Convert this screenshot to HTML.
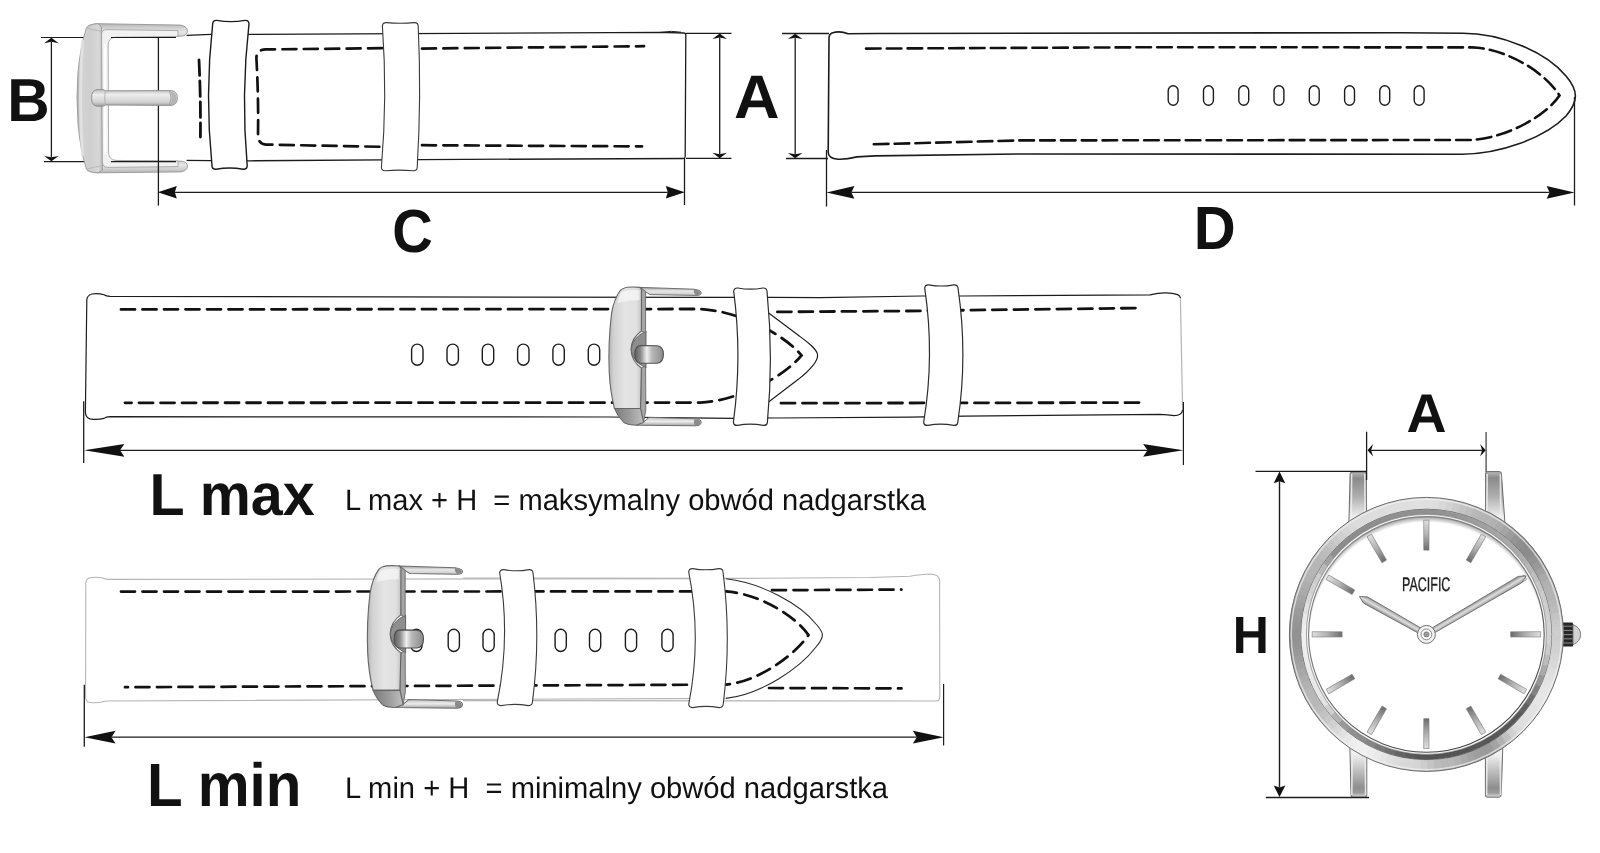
<!DOCTYPE html>
<html><head><meta charset="utf-8"><title>Wymiary paska</title>
<style>
html,body{margin:0;padding:0;background:#fff;}
body{width:1600px;height:853px;overflow:hidden;font-family:"Liberation Sans",sans-serif;}
svg{display:block;will-change:transform;filter:grayscale(1);}
text{font-family:"Liberation Sans",sans-serif;fill:#111;text-rendering:geometricPrecision;}
.b{font-weight:bold;}
</style></head><body>
<svg width="1600" height="853" viewBox="0 0 1600 853">
<rect width="1600" height="853" fill="#fff"/>
<defs>
<linearGradient id="gBarL" x1="0" y1="0" x2="1" y2="0">
 <stop offset="0" stop-color="#b2b2b2"/><stop offset="0.22" stop-color="#d2d2d2"/><stop offset="0.55" stop-color="#cecece"/><stop offset="0.85" stop-color="#d8d8d8"/><stop offset="1" stop-color="#c0c0c0"/>
</linearGradient>
<linearGradient id="gBarT" x1="0" y1="0" x2="0" y2="1">
 <stop offset="0" stop-color="#b4b4b4"/><stop offset="0.3" stop-color="#d0d0d0"/><stop offset="0.6" stop-color="#e6e6e6"/><stop offset="1" stop-color="#d0d0d0"/>
</linearGradient>
<linearGradient id="gBarB" x1="0" y1="0" x2="0" y2="1">
 <stop offset="0" stop-color="#d0d0d0"/><stop offset="0.4" stop-color="#e6e6e6"/><stop offset="0.7" stop-color="#d0d0d0"/><stop offset="1" stop-color="#b4b4b4"/>
</linearGradient>
<linearGradient id="gProng" x1="0" y1="0" x2="0" y2="1">
 <stop offset="0" stop-color="#bdbdbd"/><stop offset="0.3" stop-color="#ededed"/><stop offset="0.75" stop-color="#d2d2d2"/><stop offset="1" stop-color="#9c9c9c"/>
</linearGradient>
<linearGradient id="gChrome" x1="0" y1="0" x2="1" y2="0">
 <stop offset="0" stop-color="#b4b4b4"/><stop offset="0.15" stop-color="#d2d2d2"/><stop offset="0.5" stop-color="#e4e4e4"/><stop offset="0.85" stop-color="#e0e0e0"/><stop offset="1" stop-color="#c4c4c4"/>
</linearGradient>
<linearGradient id="gChamfer" x1="0" y1="0" x2="1" y2="0">
 <stop offset="0" stop-color="#7c7c7c"/><stop offset="0.5" stop-color="#9a9a9a"/><stop offset="1" stop-color="#c0c0c0"/>
</linearGradient>
<linearGradient id="gChromeT" x1="0" y1="0" x2="0" y2="1">
 <stop offset="0" stop-color="#9a9a9a"/><stop offset="0.45" stop-color="#e8e8e8"/><stop offset="1" stop-color="#c8c8c8"/>
</linearGradient>
<linearGradient id="gChromeB" x1="0" y1="0" x2="0" y2="1">
 <stop offset="0" stop-color="#c4c4c4"/><stop offset="0.5" stop-color="#ececec"/><stop offset="1" stop-color="#a0a0a0"/>
</linearGradient>
<linearGradient id="gProng2" x1="0" y1="0" x2="1" y2="0">
 <stop offset="0" stop-color="#5e5e5e"/><stop offset="0.2" stop-color="#8a8a8a"/><stop offset="0.42" stop-color="#f0f0f0"/><stop offset="0.6" stop-color="#b8b8b8"/><stop offset="1" stop-color="#8a8a8a"/>
</linearGradient>
<linearGradient id="gCase" x1="0.15" y1="0.1" x2="0.85" y2="0.9">
 <stop offset="0" stop-color="#dcdcdc"/><stop offset="0.25" stop-color="#f0f0f0"/><stop offset="0.5" stop-color="#c4c4c4"/><stop offset="0.75" stop-color="#b0b0b0"/><stop offset="1" stop-color="#d8d8d8"/>
</linearGradient>
<linearGradient id="gBezel2" x1="0.2" y1="0.1" x2="0.8" y2="0.9">
 <stop offset="0" stop-color="#a8a8a8"/><stop offset="0.4" stop-color="#e8e8e8"/><stop offset="0.7" stop-color="#f6f6f6"/><stop offset="1" stop-color="#b4b4b4"/>
</linearGradient>
<linearGradient id="gDialEdge" x1="0.2" y1="0" x2="0.8" y2="1">
 <stop offset="0" stop-color="#8a8a8a"/><stop offset="0.5" stop-color="#707070"/><stop offset="1" stop-color="#3c3c3c"/>
</linearGradient>
<radialGradient id="gDial" gradientUnits="userSpaceOnUse" cx="1426.4" cy="639.4" r="123">
 <stop offset="0.952" stop-color="#fff"/><stop offset="1" stop-color="#9c9c9c"/>
</radialGradient>
<linearGradient id="gLugT" x1="0" y1="0" x2="0" y2="1">
 <stop offset="0" stop-color="#b8b8b8"/><stop offset="0.1" stop-color="#8a8a8a"/><stop offset="0.4" stop-color="#b0b0b0"/><stop offset="0.7" stop-color="#ececec"/><stop offset="1" stop-color="#fff"/>
</linearGradient>
<linearGradient id="gLugB" x1="0" y1="0" x2="0" y2="1">
 <stop offset="0" stop-color="#fff"/><stop offset="0.3" stop-color="#f2f2f2"/><stop offset="0.55" stop-color="#c4c4c4"/><stop offset="0.85" stop-color="#8e8e8e"/><stop offset="0.93" stop-color="#9c9c9c"/><stop offset="1" stop-color="#dcdcdc"/>
</linearGradient>
<linearGradient id="gMark" x1="0" y1="0" x2="0" y2="1">
 <stop offset="0" stop-color="#e0e0e0"/><stop offset="0.5" stop-color="#b0b0b0"/><stop offset="1" stop-color="#6c6c6c"/>
</linearGradient>
<linearGradient id="gHand" x1="0" y1="0" x2="0" y2="1">
 <stop offset="0" stop-color="#8a8a8a"/><stop offset="0.5" stop-color="#dedede"/><stop offset="1" stop-color="#9a9a9a"/>
</linearGradient>
<linearGradient id="gCrown" x1="0" y1="0" x2="0" y2="1">
 <stop offset="0" stop-color="#555"/><stop offset="0.5" stop-color="#222"/><stop offset="1" stop-color="#555"/>
</linearGradient>
</defs>
<g id="strapC">
<path d="M186.6,35.4 L211,34.4 L250,34.4 L660,32.4 L684,33 Q686,33.2 685.8,35.4 L685.2,156 Q685.2,158.6 683,158.5 L420,159.6 L250,160.8 L211,160.6 L186.6,160.4" fill="#fff" stroke="#1c1c1c" stroke-width="1.3" stroke-linejoin="round"/>
<path d="M660,32.4 Q672,30.4 681,32.2" fill="none" stroke="#1c1c1c" stroke-width="1"/>
<path d="M199,60 Q200.8,98 200.4,137" fill="none" stroke="#111" stroke-width="2.8" stroke-dasharray="15.5 5.5" stroke-dashoffset="0" stroke-linecap="round"/>
<path d="M382,48.2 L266,49.4 Q256.4,49.8 256.4,58 Q258.6,98 258,135 Q258,144 266,144.6 L382,146.8" fill="none" stroke="#111" stroke-width="2.7" stroke-dasharray="14 7.4" stroke-dashoffset="0" stroke-linecap="round"/>
<path d="M422,48.6 L644,46.2" fill="none" stroke="#111" stroke-width="2.7" stroke-dasharray="14 7.4" stroke-dashoffset="0" stroke-linecap="round"/>
<path d="M422,145.2 L642,146.4" fill="none" stroke="#111" stroke-width="2.7" stroke-dasharray="14 7.4" stroke-dashoffset="0" stroke-linecap="round"/>
<line x1="41.0" y1="37.5" x2="176.0" y2="37.5" stroke="#1c1c1c" stroke-width="1.20"/>
<line x1="44.0" y1="161.6" x2="176.0" y2="161.6" stroke="#1c1c1c" stroke-width="1.30"/>
<path d="M86.4,169 Q88.5,172.4 98,172.8 L181,171.9 Q187.4,170.6 187.4,166.2 Q187.4,161.6 181,161.2 L112,160.6 L101.5,160 Z" fill="url(#gBarB)" stroke="#969696" stroke-width="0.9" stroke-linejoin="round"/>
<path d="M86.4,27.9 Q88.5,24.2 98,23.7 L181,25.1 Q187.4,26.6 187.4,31 Q187.4,35.6 181,36.2 L112,37 L101.5,37.6 Z" fill="url(#gBarT)" stroke="#969696" stroke-width="0.9" stroke-linejoin="round"/>
<path d="M86.4,27.9 Q80.5,46 78,72 Q76,97 78,124 Q80.5,151 86.4,169 Q88.5,172.4 98,172.8 L102.4,170 L101.6,27 L98,23.7 Q88.5,24.2 86.4,27.9 Z" fill="url(#gBarL)" stroke="#9a9a9a" stroke-width="0.9" stroke-linejoin="round"/>
<path d="M82.5,40 Q78.5,97 82.5,156" fill="none" stroke="#e6e6e6" stroke-width="3" opacity="0.8"/>
<path d="M86.4,27.9 L101.6,31.5 M86.4,169 L102,165.6" fill="none" stroke="#b4b4b4" stroke-width="0.8"/>
<path d="M101.6,34 Q101.6,29.6 107,29.6 L178,30.6 L178,36.4 L116,37.2 Q108.2,37.6 108.2,45 L108.6,152 Q108.6,160 116,160.4 L178,161 L178,166.6 L108,167.4 Q102.4,167.2 102.4,162 Z" fill="#f1f1f1" stroke="#9c9c9c" stroke-width="0.8" stroke-linejoin="round"/>
<path d="M105,44 L105.4,154" stroke="#fdfdfd" stroke-width="2.4" fill="none"/>
<line x1="158.4" y1="37.5" x2="158.4" y2="205.6" stroke="#1c1c1c" stroke-width="1.30"/>
<path d="M97,89.6 Q91.6,90.2 91.6,97.8 Q91.6,105.6 97,106.2 L103,106.2 L105.4,105 L171,105.4 Q177.4,104.8 177.4,98 Q177.4,91.2 171,90.6 L105.4,90.8 L103,89.6 Z" fill="url(#gProng)" stroke="#8a8a8a" stroke-width="0.9" stroke-linejoin="round"/>
<path d="M169.6,91 Q172.4,98 169.6,105" fill="none" stroke="#9a9a9a" stroke-width="0.9"/>
<path d="M170.4,91.4 Q176.6,92 176.6,98 Q176.6,104 170.4,104.8 Q172.8,98 170.4,91.4 Z" fill="#b4b4b4"/>
<path d="M105.4,90.8 Q104,98 105.4,105" fill="none" stroke="#a4a4a4" stroke-width="0.8"/>
<line x1="111.0" y1="37.5" x2="176.0" y2="37.5" stroke="#1c1c1c" stroke-width="1.20"/>
<line x1="111.0" y1="161.6" x2="176.0" y2="161.6" stroke="#1c1c1c" stroke-width="1.30"/>
<path d="M212.7,23.7 Q212.9,20.2 216.8,20.4 Q230.9,22.8 244.9,20.4 Q248.8,20.2 249.0,23.7 Q240.9,94.8 247.2,165.9 Q247.0,169.4 243.1,169.2 Q229.6,166.8 216.1,169.2 Q212.2,169.4 212.0,165.9 Q204.7,94.8 212.7,23.7 Z" fill="#fff" stroke="#1c1c1c" stroke-width="1.4" stroke-linejoin="round"/>
<path d="M382.4,25.9 Q382.6,22.4 386.5,22.6 Q400.3,24.0 414.1,22.6 Q418.0,22.4 418.2,25.9 Q421.5,96.7 417.2,167.5 Q417.0,171.0 413.1,170.8 Q399.3,169.4 385.5,170.8 Q381.6,171.0 381.4,167.5 Q387.5,96.7 382.4,25.9 Z" fill="#fff" stroke="#3a3a3a" stroke-width="1.1" stroke-linejoin="round"/>
</g>
<line x1="51.4" y1="41.8" x2="51.4" y2="157.3" stroke="#1c1c1c" stroke-width="1.30"/><polygon points="51.4,37.8 44.1,43.2 51.4,41.8 58.7,43.2" fill="#111"/><polygon points="51.4,161.3 44.1,155.9 51.4,157.3 58.7,155.9" fill="#111"/>
<line x1="684.5" y1="158.0" x2="684.5" y2="205.0" stroke="#1c1c1c" stroke-width="1.30"/>
<line x1="174.8" y1="192.3" x2="667.8" y2="192.3" stroke="#1c1c1c" stroke-width="1.30"/><polygon points="157.8,192.3 176.8,186.1 174.8,192.3 176.8,198.5" fill="#111"/><polygon points="684.8,192.3 665.8,186.1 667.8,192.3 665.8,198.5" fill="#111"/>
<line x1="686.0" y1="33.4" x2="731.5" y2="33.4" stroke="#1c1c1c" stroke-width="1.30"/>
<line x1="686.0" y1="158.4" x2="731.5" y2="158.4" stroke="#1c1c1c" stroke-width="1.30"/>
<line x1="719.7" y1="37.6" x2="719.7" y2="154.2" stroke="#1c1c1c" stroke-width="1.30"/><polygon points="719.7,33.6 712.4,39.0 719.7,37.6 727.0,39.0" fill="#111"/><polygon points="719.7,158.2 712.4,152.8 719.7,154.2 727.0,152.8" fill="#111"/>
<g id="strapD">
<path d="M829,39 Q828.8,34.4 832,33 Q840,30.4 848,33.8 L875,33.5 L1400,32.7 L1462,33.2 C1500,33 1545,51 1566,76 Q1575.4,87 1575.4,96 Q1575.4,105 1566,116 C1545,138 1500,153.8 1462,154.2 L1020,154 L875,155.9 L857,156.9 Q846,159.6 838,159.2 Q828.2,158.4 828.2,152 Z" fill="#fff" stroke="#1c1c1c" stroke-width="1.6" stroke-linejoin="round"/>
<path d="M866,48.6 L1160,47.2 L1472,47.4 C1506,48.4 1545,72 1559.5,95.5 C1545,117 1506,137.6 1472,140 L1020,140.4 L870,144.4" fill="none" stroke="#111" stroke-width="2.6" stroke-dasharray="14.6 6.2" stroke-dashoffset="0" stroke-linecap="round"/>
<rect x="1168.2" y="85.8" width="9.9" height="19.5" rx="5.0" ry="5.0" fill="#fff" stroke="#1c1c1c" stroke-width="1.4"/>
<rect x="1203.5" y="85.8" width="9.9" height="19.5" rx="5.0" ry="5.0" fill="#fff" stroke="#1c1c1c" stroke-width="1.4"/>
<rect x="1238.8" y="85.8" width="9.9" height="19.5" rx="5.0" ry="5.0" fill="#fff" stroke="#1c1c1c" stroke-width="1.4"/>
<rect x="1274.0" y="85.8" width="9.9" height="19.5" rx="5.0" ry="5.0" fill="#fff" stroke="#1c1c1c" stroke-width="1.4"/>
<rect x="1309.3" y="85.8" width="9.9" height="19.5" rx="5.0" ry="5.0" fill="#fff" stroke="#1c1c1c" stroke-width="1.4"/>
<rect x="1344.6" y="85.8" width="9.9" height="19.5" rx="5.0" ry="5.0" fill="#fff" stroke="#1c1c1c" stroke-width="1.4"/>
<rect x="1379.8" y="85.8" width="9.9" height="19.5" rx="5.0" ry="5.0" fill="#fff" stroke="#1c1c1c" stroke-width="1.4"/>
<rect x="1414.2" y="85.8" width="9.9" height="19.5" rx="5.0" ry="5.0" fill="#fff" stroke="#1c1c1c" stroke-width="1.4"/>
</g>
<line x1="782.0" y1="33.5" x2="829.0" y2="33.5" stroke="#1c1c1c" stroke-width="1.30"/>
<line x1="786.0" y1="158.5" x2="828.0" y2="158.5" stroke="#1c1c1c" stroke-width="1.30"/>
<line x1="795.2" y1="37.7" x2="795.2" y2="154.3" stroke="#1c1c1c" stroke-width="1.30"/><polygon points="795.2,33.7 787.9,39.1 795.2,37.7 802.5,39.1" fill="#111"/><polygon points="795.2,158.3 787.9,152.9 795.2,154.3 802.5,152.9" fill="#111"/>
<line x1="826.5" y1="150.0" x2="826.5" y2="206.5" stroke="#1c1c1c" stroke-width="1.30"/>
<line x1="1574.5" y1="97.0" x2="1574.5" y2="205.5" stroke="#1c1c1c" stroke-width="1.30"/>
<line x1="851.4" y1="192.4" x2="1549.6" y2="192.4" stroke="#1c1c1c" stroke-width="1.30"/><polygon points="826.4,192.4 854.4,186.0 851.4,192.4 854.4,198.8" fill="#111"/><polygon points="1574.6,192.4 1546.6,186.0 1549.6,192.4 1546.6,198.8" fill="#111"/>
<g id="strapMax">
<path d="M1180.4,298 L1182.6,410" stroke="#b4b4b4" stroke-width="1.2" fill="none"/>
<path d="M1182.6,410 Q1182,415.4 1174,415.6 Q1168,414.6 1160,414.3 L965,416.2 L910,417.2 L775,418 L701,417.6 M701,298 L770,297.3 L820,297.7 L922,296 L962,296 L1150,294.8 Q1158,293 1165,292.8 Q1172,292.6 1177.6,294.6 Q1180.2,296 1180.4,298" fill="none" stroke="#1c1c1c" stroke-width="1.2" stroke-linejoin="round"/>
<path d="M777.4,311.9 L922,310.9 L965,310.2 L1142.4,308" fill="none" stroke="#111" stroke-width="2.8" stroke-dasharray="14 7.5" stroke-dashoffset="0" stroke-linecap="round"/>
<path d="M781,403.2 L1143.8,402.6" fill="none" stroke="#111" stroke-width="2.8" stroke-dasharray="14 7.5" stroke-dashoffset="0" stroke-linecap="round"/>
<path d="M735,297.4 L110,296.4 Q106,296.2 104,294.8 Q98,293 92,294 Q87,295.4 86.8,300 L85.4,412 Q85.6,417.6 90,418.8 Q97,420 104,418.4 Q106,416.8 110,416.7 L609,417 L735,418.4 L758,410 L798,379.6 C808,371.6 817.6,362 817.6,355.4 C817.6,349 806,341 798,335 L760,306.5 L735,297.4 Z" fill="#fff" stroke="#1c1c1c" stroke-width="1.2" stroke-linejoin="round"/>
<path d="M121,309.4 L700,309 C740,311 785,335 801.5,355.4 C785,376 740,400.6 700,402.6 L125,402.8" fill="none" stroke="#111" stroke-width="2.8" stroke-dasharray="14 7.5" stroke-dashoffset="0" stroke-linecap="round"/>
<rect x="411.6" y="344.1" width="11.4" height="21.1" rx="5.7" ry="5.7" fill="#fff" stroke="#1c1c1c" stroke-width="1.4"/>
<rect x="447.0" y="344.1" width="11.4" height="21.1" rx="5.7" ry="5.7" fill="#fff" stroke="#1c1c1c" stroke-width="1.4"/>
<rect x="482.3" y="344.1" width="11.4" height="21.1" rx="5.7" ry="5.7" fill="#fff" stroke="#1c1c1c" stroke-width="1.4"/>
<rect x="517.6" y="344.1" width="11.4" height="21.1" rx="5.7" ry="5.7" fill="#fff" stroke="#1c1c1c" stroke-width="1.4"/>
<rect x="552.9" y="344.1" width="11.4" height="21.1" rx="5.7" ry="5.7" fill="#fff" stroke="#1c1c1c" stroke-width="1.4"/>
<rect x="588.3" y="344.1" width="11.4" height="21.1" rx="5.7" ry="5.7" fill="#fff" stroke="#1c1c1c" stroke-width="1.4"/>
<g transform="translate(0.00,0.00) scale(1.0000,1.0000)"><path d="M640,287.4 L694,289.2 Q701.4,290.2 701.2,293 Q701,295.6 696,295.4 L650,294.6 L645.4,291.6 Z" fill="url(#gChromeT)" stroke="#6e6e6e" stroke-width="1"/><path d="M694,289.4 Q700.8,290.4 700.6,293 Q700.4,295.2 696,295.2 Q693,292 694,289.4 Z" fill="#8a8a8a"/><path d="M643.4,422.4 L649,417.4 L696,418.8 Q701.4,419.4 701.2,422.4 Q701,425.8 695,425.8 L636,425.2 Z" fill="url(#gChromeB)" stroke="#6e6e6e" stroke-width="1"/><path d="M694.6,419.2 Q700.8,419.6 700.6,422.4 Q700.4,425.4 695,425.4 Q693,422 694.6,419.2 Z" fill="#8a8a8a"/><path d="M646,331.0 Q632,338.0 631,349.5 Q632,361.0 646,368.0 Z" fill="#8e8e8e" stroke="#5a5a5a" stroke-width="0.9"/><path d="M640,287.4 L645.6,291.6 L645.6,333.0 L641.4,331.0 Z M641.4,368.0 L645.6,366.0 L645.8,410 L643.6,422.4 L640.5,408.5 Z" fill="#a6a6a6" stroke="#6a6a6a" stroke-width="0.9" stroke-linejoin="round"/><path d="M624,288.2 Q628,286.4 640,287.4 L641.5,289.5 L641.4,331.0 Q631.4,338.0 631,349.5 Q631.4,361.0 641.4,368.0 L640.5,408.5 L614.4,408.5 Q610,390 609.2,371.8 Q608,342.7 611.5,313.7 Q614,299 620.2,290.5 Q622,288.8 624,288.2 Z" fill="url(#gChrome)" stroke="#666" stroke-width="1.1" stroke-linejoin="round"/><path d="M614.4,408.5 L640.5,408.5 L643.6,422.4 L636,425.2 Q628,425 624.4,423 Q618.4,418 614.4,408.5 Z" fill="url(#gChamfer)" stroke="#666" stroke-width="1" stroke-linejoin="round"/><path d="M621.5,292 Q630,289.4 639.6,290.4 L639.6,300 Q628,300 617.4,303 Q619,296 621.5,292 Z" fill="#fff" opacity="0.55"/><path d="M640.4,345.6 Q634.8,346.2 634.8,354.4 Q634.8,362.6 640.4,363.2 L657,363.2 Q663.4,362.6 663.4,354.4 Q663.4,346.4 657,345.8 Z" fill="url(#gProng2)" stroke="#505050" stroke-width="1.1"/></g>
<path d="M733.7,291.3 Q733.9,287.8 737.8,288.0 Q750.3,290.4 762.9,288.0 Q766.8,287.8 767.0,291.3 Q773.6,356.7 767.4,422.1 Q767.2,425.6 763.3,425.4 Q750.4,423.0 737.5,425.4 Q733.6,425.6 733.4,422.1 Q742.3,356.7 733.7,291.3 Z" fill="#fff" stroke="#2c2c2c" stroke-width="1.2" stroke-linejoin="round"/>
<path d="M924.7,288.1 Q924.9,284.6 928.8,284.8 Q941.3,287.2 953.9,284.8 Q957.8,284.6 958.0,288.1 Q967.9,355.1 957.8,422.1 Q957.6,425.6 953.7,425.4 Q940.8,423.0 927.8,425.4 Q923.9,425.6 923.7,422.1 Q934.8,355.1 924.7,288.1 Z" fill="#fff" stroke="#2c2c2c" stroke-width="1.2" stroke-linejoin="round"/>
</g>
<line x1="83.7" y1="401.2" x2="83.7" y2="463.0" stroke="#1c1c1c" stroke-width="1.30"/>
<line x1="1183.4" y1="402.0" x2="1183.4" y2="465.0" stroke="#1c1c1c" stroke-width="1.20"/>
<line x1="120.0" y1="450.3" x2="1147.5" y2="450.3" stroke="#1c1c1c" stroke-width="1.30"/><polygon points="84.1,450.3 124.4,443.9 120.0,450.3 124.4,456.7" fill="#111"/><polygon points="1183.4,450.3 1143.1,443.9 1147.5,450.3 1143.1,456.7" fill="#111"/>
<g id="strapMin">
<path d="M463,578 L735,578.4 L870,577.5 L910,576.3 Q922,574.2 930,574 Q939,574.4 939.6,580 L939.8,697 Q939.8,700.8 936,701 L463,700.6" fill="#fff" stroke="#b4b4b4" stroke-width="1.1" stroke-linejoin="round"/>
<path d="M772,590.2 L901.5,589.6" fill="none" stroke="#111" stroke-width="2.7" stroke-dasharray="14 7.5" stroke-dashoffset="0" stroke-linecap="round"/>
<path d="M769,688 L901.5,688.4" fill="none" stroke="#111" stroke-width="2.7" stroke-dasharray="14 7.5" stroke-dashoffset="0" stroke-linecap="round"/>
<path d="M726,578.6 L108,579.4 Q104,579 102,577.8 Q95,576.6 89,578 Q85.8,579.4 85.8,583 L85.6,697 Q85.8,701.4 89,702.2 Q96,703.4 102,702 Q104,701 108,701 L726,698.4" fill="#fff" stroke="#b4b4b4" stroke-width="1.1" stroke-linejoin="round"/>
<path d="M726,578.8 C762,583 800,604 816,624 Q822.4,631 822.4,635 Q822.4,639.6 816,647 C800,668 762,694 726,698.4" fill="#fff" stroke="#2a2a2a" stroke-width="1.1"/>
<path d="M121,591.6 L726,591.4 C762,594 797,618 808.5,635 C797,652 762,681 726,684.6 L125,687.2" fill="none" stroke="#111" stroke-width="2.7" stroke-dasharray="14 7.5" stroke-dashoffset="0" stroke-linecap="round"/>
<rect x="410.8" y="629.3" width="11.2" height="22.2" rx="5.6" ry="5.6" fill="#fff" stroke="#1c1c1c" stroke-width="1.4"/>
<rect x="448.2" y="629.3" width="11.2" height="22.2" rx="5.6" ry="5.6" fill="#fff" stroke="#1c1c1c" stroke-width="1.4"/>
<rect x="483.0" y="629.3" width="11.2" height="22.2" rx="5.6" ry="5.6" fill="#fff" stroke="#1c1c1c" stroke-width="1.4"/>
<rect x="555.1" y="629.3" width="11.2" height="22.2" rx="5.6" ry="5.6" fill="#fff" stroke="#1c1c1c" stroke-width="1.4"/>
<rect x="589.5" y="629.3" width="11.2" height="22.2" rx="5.6" ry="5.6" fill="#fff" stroke="#1c1c1c" stroke-width="1.4"/>
<rect x="625.4" y="629.3" width="11.2" height="22.2" rx="5.6" ry="5.6" fill="#fff" stroke="#1c1c1c" stroke-width="1.4"/>
<rect x="661.9" y="629.3" width="11.2" height="22.2" rx="5.6" ry="5.6" fill="#fff" stroke="#1c1c1c" stroke-width="1.4"/>
<g transform="translate(-259.80,270.85) scale(1.0300,1.0270)"><path d="M640,287.4 L694,289.2 Q701.4,290.2 701.2,293 Q701,295.6 696,295.4 L650,294.6 L645.4,291.6 Z" fill="url(#gChromeT)" stroke="#6e6e6e" stroke-width="1"/><path d="M694,289.4 Q700.8,290.4 700.6,293 Q700.4,295.2 696,295.2 Q693,292 694,289.4 Z" fill="#8a8a8a"/><path d="M643.4,422.4 L649,417.4 L696,418.8 Q701.4,419.4 701.2,422.4 Q701,425.8 695,425.8 L636,425.2 Z" fill="url(#gChromeB)" stroke="#6e6e6e" stroke-width="1"/><path d="M694.6,419.2 Q700.8,419.6 700.6,422.4 Q700.4,425.4 695,425.4 Q693,422 694.6,419.2 Z" fill="#8a8a8a"/><path d="M646,335.0 Q632,342.0 631,353.5 Q632,365.0 646,372.0 Z" fill="#8e8e8e" stroke="#5a5a5a" stroke-width="0.9"/><path d="M640,287.4 L645.6,291.6 L645.6,337.0 L641.4,335.0 Z M641.4,372.0 L645.6,370.0 L645.8,410 L643.6,422.4 L640.5,408.5 Z" fill="#a6a6a6" stroke="#6a6a6a" stroke-width="0.9" stroke-linejoin="round"/><path d="M624,288.2 Q628,286.4 640,287.4 L641.5,289.5 L641.4,335.0 Q631.4,342.0 631,353.5 Q631.4,365.0 641.4,372.0 L640.5,408.5 L614.4,408.5 Q610,390 609.2,371.8 Q608,342.7 611.5,313.7 Q614,299 620.2,290.5 Q622,288.8 624,288.2 Z" fill="url(#gChrome)" stroke="#666" stroke-width="1.1" stroke-linejoin="round"/><path d="M614.4,408.5 L640.5,408.5 L643.6,422.4 L636,425.2 Q628,425 624.4,423 Q618.4,418 614.4,408.5 Z" fill="url(#gChamfer)" stroke="#666" stroke-width="1" stroke-linejoin="round"/><path d="M621.5,292 Q630,289.4 639.6,290.4 L639.6,300 Q628,300 617.4,303 Q619,296 621.5,292 Z" fill="#fff" opacity="0.55"/><path d="M640.4,349.6 Q634.8,350.2 634.8,358.4 Q634.8,366.6 640.4,367.2 L657,367.2 Q663.4,366.6 663.4,358.4 Q663.4,350.4 657,349.8 Z" fill="url(#gProng2)" stroke="#505050" stroke-width="1.1"/></g>
<path d="M499.7,572.9 Q499.9,569.4 503.8,569.6 Q516.4,572.0 528.9,569.6 Q532.8,569.4 533.0,572.9 Q540.9,637.6 532.4,702.3 Q532.2,705.8 528.3,705.6 Q514.8,703.2 501.3,705.6 Q497.4,705.8 497.2,702.3 Q510.6,637.6 499.7,572.9 Z" fill="#fff" stroke="#3a3a3a" stroke-width="1.1" stroke-linejoin="round"/>
<path d="M688.7,571.9 Q688.9,568.4 692.8,568.6 Q705.8,571.0 718.9,568.6 Q722.8,568.4 723.0,571.9 Q731.5,638.1 723.2,704.3 Q723.0,707.8 719.1,707.6 Q706.0,705.2 692.8,707.6 Q688.9,707.8 688.7,704.3 Q701.9,638.1 688.7,571.9 Z" fill="#fff" stroke="#3a3a3a" stroke-width="1.1" stroke-linejoin="round"/>
</g>
<line x1="84.3" y1="684.8" x2="84.3" y2="746.7" stroke="#1c1c1c" stroke-width="1.30"/>
<line x1="943.6" y1="684.0" x2="943.6" y2="745.5" stroke="#1c1c1c" stroke-width="1.20"/>
<line x1="111.5" y1="737.2" x2="916.8" y2="737.2" stroke="#1c1c1c" stroke-width="1.30"/><polygon points="84.5,737.2 115.5,730.8 111.5,737.2 115.5,743.6" fill="#111"/><polygon points="943.8,737.2 912.8,730.8 916.8,737.2 912.8,743.6" fill="#111"/>
<g id="watch">
<path d="M1352,472 Q1350.2,472.2 1350.1,474 L1348.6,535 L1366.4,535 L1366.4,474 Q1366.2,472 1364.6,472 Z" fill="url(#gLugT)" stroke="#5e5e5e" stroke-width="0.9" stroke-linejoin="round"/><line x1="1351.6" y1="474.0" x2="1351.2" y2="530.0" stroke="#f0f0f0" stroke-width="1.6" opacity="0.85"/><line x1="1364.8" y1="474.0" x2="1365.2" y2="530.0" stroke="#f0f0f0" stroke-width="1.6" opacity="0.85"/>
<path d="M1487.2,471.6 Q1485.6,471.8 1485.6,473.6 L1485.6,535 L1505.8,535 L1501.4,473.6 Q1501.2,471.6 1499.6,471.6 Z" fill="url(#gLugT)" stroke="#5e5e5e" stroke-width="0.9" stroke-linejoin="round"/><line x1="1487.2" y1="474.0" x2="1486.8" y2="530.0" stroke="#f0f0f0" stroke-width="1.6" opacity="0.85"/><line x1="1500.4" y1="474.0" x2="1500.8" y2="530.0" stroke="#f0f0f0" stroke-width="1.6" opacity="0.85"/>
<path d="M1349.6,735 L1351,795 Q1351.2,797.2 1353,797.2 L1364.8,797.2 Q1366.8,797 1366.8,795 L1366.8,735 Z" fill="url(#gLugB)" stroke="#5e5e5e" stroke-width="0.9" stroke-linejoin="round"/><line x1="1352.2" y1="745.0" x2="1351.8" y2="795.0" stroke="#f0f0f0" stroke-width="1.6" opacity="0.85"/><line x1="1365.2" y1="745.0" x2="1365.6" y2="795.0" stroke="#f0f0f0" stroke-width="1.6" opacity="0.85"/>
<path d="M1485.4,735 L1485.4,795 Q1485.4,797.2 1487.2,797.2 L1499.2,797.2 Q1501,797 1501.2,795 L1503.2,735 Z" fill="url(#gLugB)" stroke="#5e5e5e" stroke-width="0.9" stroke-linejoin="round"/><line x1="1487.0" y1="745.0" x2="1486.6" y2="795.0" stroke="#f0f0f0" stroke-width="1.6" opacity="0.85"/><line x1="1500.2" y1="745.0" x2="1500.6" y2="795.0" stroke="#f0f0f0" stroke-width="1.6" opacity="0.85"/>
<rect x="1561" y="622.6" width="12" height="24" rx="1.2" fill="#262626"/>
<line x1="1562" y1="626.2" x2="1572.6" y2="626.2" stroke="#9a9a9a" stroke-width="0.9"/>
<line x1="1562" y1="630.4" x2="1572.6" y2="630.4" stroke="#9a9a9a" stroke-width="0.9"/>
<line x1="1562" y1="634.6" x2="1572.6" y2="634.6" stroke="#9a9a9a" stroke-width="0.9"/>
<line x1="1562" y1="638.8" x2="1572.6" y2="638.8" stroke="#9a9a9a" stroke-width="0.9"/>
<line x1="1562" y1="643.0" x2="1572.6" y2="643.0" stroke="#9a9a9a" stroke-width="0.9"/>
<path d="M1573,624.6 Q1580.6,627.6 1580.6,634.6 Q1580.6,641.6 1573,644.6 Z" fill="#d2d2d2" stroke="#6e6e6e" stroke-width="0.9"/>
<circle cx="1426.4" cy="634.4" r="137.0" fill="#d8d8d8"/>
<path d="M1557.60,633.48 A131.20,131.20 0 0 1 1557.37,642.18" stroke="#cdcdcd" stroke-width="11.80" fill="none"/><path d="M1557.46,640.35 A131.20,131.20 0 0 1 1556.78,649.02" stroke="#cfcfcf" stroke-width="11.80" fill="none"/><path d="M1556.97,647.20 A131.20,131.20 0 0 1 1555.84,655.83" stroke="#d1d1d1" stroke-width="11.80" fill="none"/><path d="M1556.12,654.02 A131.20,131.20 0 0 1 1554.54,662.57" stroke="#d5d5d5" stroke-width="11.80" fill="none"/><path d="M1554.92,660.78 A131.20,131.20 0 0 1 1552.89,669.24" stroke="#d9d9d9" stroke-width="11.80" fill="none"/><path d="M1553.36,667.47 A131.20,131.20 0 0 1 1550.89,675.81" stroke="#dddddd" stroke-width="11.80" fill="none"/><path d="M1551.46,674.07 A131.20,131.20 0 0 1 1548.55,682.27" stroke="#e0e0e0" stroke-width="11.80" fill="none"/><path d="M1549.21,680.56 A131.20,131.20 0 0 1 1545.88,688.60" stroke="#e3e3e3" stroke-width="11.80" fill="none"/><path d="M1546.63,686.93 A131.20,131.20 0 0 1 1542.88,694.78" stroke="#e5e5e5" stroke-width="11.80" fill="none"/><path d="M1543.71,693.15 A131.20,131.20 0 0 1 1539.56,700.79" stroke="#e6e6e6" stroke-width="11.80" fill="none"/><path d="M1540.48,699.21 A131.20,131.20 0 0 1 1535.93,706.62" stroke="#e5e5e5" stroke-width="11.80" fill="none"/><path d="M1536.93,705.09 A131.20,131.20 0 0 1 1532.00,712.26" stroke="#e3e3e3" stroke-width="11.80" fill="none"/><path d="M1533.08,710.77 A131.20,131.20 0 0 1 1527.78,717.68" stroke="#e1e1e1" stroke-width="11.80" fill="none"/><path d="M1528.94,716.25 A131.20,131.20 0 0 1 1523.29,722.87" stroke="#dfdfdf" stroke-width="11.80" fill="none"/><path d="M1524.51,721.51 A131.20,131.20 0 0 1 1518.52,727.82" stroke="#dedede" stroke-width="11.80" fill="none"/><path d="M1519.82,726.52 A131.20,131.20 0 0 1 1513.51,732.51" stroke="#dbdbdb" stroke-width="11.80" fill="none"/><path d="M1514.87,731.29 A131.20,131.20 0 0 1 1508.25,736.94" stroke="#d0d0d0" stroke-width="11.80" fill="none"/><path d="M1509.68,735.78 A131.20,131.20 0 0 1 1502.77,741.08" stroke="#c1c1c1" stroke-width="11.80" fill="none"/><path d="M1504.26,740.00 A131.20,131.20 0 0 1 1497.09,744.93" stroke="#b1b1b1" stroke-width="11.80" fill="none"/><path d="M1498.62,743.93 A131.20,131.20 0 0 1 1491.21,748.48" stroke="#a4a4a4" stroke-width="11.80" fill="none"/><path d="M1492.79,747.56 A131.20,131.20 0 0 1 1485.15,751.71" stroke="#9b9b9b" stroke-width="11.80" fill="none"/><path d="M1486.78,750.88 A131.20,131.20 0 0 1 1478.93,754.63" stroke="#9b9b9b" stroke-width="11.80" fill="none"/><path d="M1480.60,753.88 A131.20,131.20 0 0 1 1472.56,757.21" stroke="#9e9e9e" stroke-width="11.80" fill="none"/><path d="M1474.27,756.55 A131.20,131.20 0 0 1 1466.07,759.46" stroke="#a4a4a4" stroke-width="11.80" fill="none"/><path d="M1467.81,758.89 A131.20,131.20 0 0 1 1459.47,761.36" stroke="#ababab" stroke-width="11.80" fill="none"/><path d="M1461.24,760.89 A131.20,131.20 0 0 1 1452.78,762.92" stroke="#b2b2b2" stroke-width="11.80" fill="none"/><path d="M1454.57,762.54 A131.20,131.20 0 0 1 1446.02,764.12" stroke="#b7b7b7" stroke-width="11.80" fill="none"/><path d="M1447.83,763.84 A131.20,131.20 0 0 1 1439.20,764.97" stroke="#b8b8b8" stroke-width="11.80" fill="none"/><path d="M1441.02,764.78 A131.20,131.20 0 0 1 1432.35,765.46" stroke="#bcbcbc" stroke-width="11.80" fill="none"/><path d="M1434.18,765.37 A131.20,131.20 0 0 1 1425.48,765.60" stroke="#c4c4c4" stroke-width="11.80" fill="none"/><path d="M1427.32,765.60 A131.20,131.20 0 0 1 1418.62,765.37" stroke="#cccccc" stroke-width="11.80" fill="none"/><path d="M1420.45,765.46 A131.20,131.20 0 0 1 1411.78,764.78" stroke="#d4d4d4" stroke-width="11.80" fill="none"/><path d="M1413.60,764.97 A131.20,131.20 0 0 1 1404.97,763.84" stroke="#d8d8d8" stroke-width="11.80" fill="none"/><path d="M1406.78,764.12 A131.20,131.20 0 0 1 1398.23,762.54" stroke="#d9d9d9" stroke-width="11.80" fill="none"/><path d="M1400.02,762.92 A131.20,131.20 0 0 1 1391.56,760.89" stroke="#dcdcdc" stroke-width="11.80" fill="none"/><path d="M1393.33,761.36 A131.20,131.20 0 0 1 1384.99,758.89" stroke="#e0e0e0" stroke-width="11.80" fill="none"/><path d="M1386.73,759.46 A131.20,131.20 0 0 1 1378.53,756.55" stroke="#e5e5e5" stroke-width="11.80" fill="none"/><path d="M1380.24,757.21 A131.20,131.20 0 0 1 1372.20,753.88" stroke="#eaeaea" stroke-width="11.80" fill="none"/><path d="M1373.87,754.63 A131.20,131.20 0 0 1 1366.02,750.88" stroke="#ededed" stroke-width="11.80" fill="none"/><path d="M1367.65,751.71 A131.20,131.20 0 0 1 1360.01,747.56" stroke="#f0f0f0" stroke-width="11.80" fill="none"/><path d="M1361.59,748.48 A131.20,131.20 0 0 1 1354.18,743.93" stroke="#f0f0f0" stroke-width="11.80" fill="none"/><path d="M1355.71,744.93 A131.20,131.20 0 0 1 1348.54,740.00" stroke="#ededed" stroke-width="11.80" fill="none"/><path d="M1350.03,741.08 A131.20,131.20 0 0 1 1343.12,735.78" stroke="#e7e7e7" stroke-width="11.80" fill="none"/><path d="M1344.55,736.94 A131.20,131.20 0 0 1 1337.93,731.29" stroke="#e0e0e0" stroke-width="11.80" fill="none"/><path d="M1339.29,732.51 A131.20,131.20 0 0 1 1332.98,726.52" stroke="#d8d8d8" stroke-width="11.80" fill="none"/><path d="M1334.28,727.82 A131.20,131.20 0 0 1 1328.29,721.51" stroke="#d0d0d0" stroke-width="11.80" fill="none"/><path d="M1329.51,722.87 A131.20,131.20 0 0 1 1323.86,716.25" stroke="#c8c8c8" stroke-width="11.80" fill="none"/><path d="M1325.02,717.68 A131.20,131.20 0 0 1 1319.72,710.77" stroke="#c1c1c1" stroke-width="11.80" fill="none"/><path d="M1320.80,712.26 A131.20,131.20 0 0 1 1315.87,705.09" stroke="#bbbbbb" stroke-width="11.80" fill="none"/><path d="M1316.87,706.62 A131.20,131.20 0 0 1 1312.32,699.21" stroke="#b8b8b8" stroke-width="11.80" fill="none"/><path d="M1313.24,700.79 A131.20,131.20 0 0 1 1309.09,693.15" stroke="#b8b8b8" stroke-width="11.80" fill="none"/><path d="M1309.92,694.78 A131.20,131.20 0 0 1 1306.17,686.93" stroke="#b6b6b6" stroke-width="11.80" fill="none"/><path d="M1306.92,688.60 A131.20,131.20 0 0 1 1303.59,680.56" stroke="#b2b2b2" stroke-width="11.80" fill="none"/><path d="M1304.25,682.27 A131.20,131.20 0 0 1 1301.34,674.07" stroke="#adadad" stroke-width="11.80" fill="none"/><path d="M1301.91,675.81 A131.20,131.20 0 0 1 1299.44,667.47" stroke="#a8a8a8" stroke-width="11.80" fill="none"/><path d="M1299.91,669.24 A131.20,131.20 0 0 1 1297.88,660.78" stroke="#a2a2a2" stroke-width="11.80" fill="none"/><path d="M1298.26,662.57 A131.20,131.20 0 0 1 1296.68,654.02" stroke="#9d9d9d" stroke-width="11.80" fill="none"/><path d="M1296.96,655.83 A131.20,131.20 0 0 1 1295.83,647.20" stroke="#989898" stroke-width="11.80" fill="none"/><path d="M1296.02,649.02 A131.20,131.20 0 0 1 1295.34,640.35" stroke="#949494" stroke-width="11.80" fill="none"/><path d="M1295.43,642.18 A131.20,131.20 0 0 1 1295.20,633.48" stroke="#929292" stroke-width="11.80" fill="none"/><path d="M1295.20,635.32 A131.20,131.20 0 0 1 1295.43,626.62" stroke="#929292" stroke-width="11.80" fill="none"/><path d="M1295.34,628.45 A131.20,131.20 0 0 1 1296.02,619.78" stroke="#949494" stroke-width="11.80" fill="none"/><path d="M1295.83,621.60 A131.20,131.20 0 0 1 1296.96,612.97" stroke="#979797" stroke-width="11.80" fill="none"/><path d="M1296.68,614.78 A131.20,131.20 0 0 1 1298.26,606.23" stroke="#9b9b9b" stroke-width="11.80" fill="none"/><path d="M1297.88,608.02 A131.20,131.20 0 0 1 1299.91,599.56" stroke="#a0a0a0" stroke-width="11.80" fill="none"/><path d="M1299.44,601.33 A131.20,131.20 0 0 1 1301.91,592.99" stroke="#a5a5a5" stroke-width="11.80" fill="none"/><path d="M1301.34,594.73 A131.20,131.20 0 0 1 1304.25,586.53" stroke="#aaaaaa" stroke-width="11.80" fill="none"/><path d="M1303.59,588.24 A131.20,131.20 0 0 1 1306.92,580.20" stroke="#aeaeae" stroke-width="11.80" fill="none"/><path d="M1306.17,581.87 A131.20,131.20 0 0 1 1309.92,574.02" stroke="#b2b2b2" stroke-width="11.80" fill="none"/><path d="M1309.09,575.65 A131.20,131.20 0 0 1 1313.24,568.01" stroke="#b5b5b5" stroke-width="11.80" fill="none"/><path d="M1312.32,569.59 A131.20,131.20 0 0 1 1316.87,562.18" stroke="#b6b6b6" stroke-width="11.80" fill="none"/><path d="M1315.87,563.71 A131.20,131.20 0 0 1 1320.80,556.54" stroke="#b7b7b7" stroke-width="11.80" fill="none"/><path d="M1319.72,558.03 A131.20,131.20 0 0 1 1325.02,551.12" stroke="#bababa" stroke-width="11.80" fill="none"/><path d="M1323.86,552.55 A131.20,131.20 0 0 1 1329.51,545.93" stroke="#bebebe" stroke-width="11.80" fill="none"/><path d="M1328.29,547.29 A131.20,131.20 0 0 1 1334.28,540.98" stroke="#c4c4c4" stroke-width="11.80" fill="none"/><path d="M1332.98,542.28 A131.20,131.20 0 0 1 1339.29,536.29" stroke="#cacaca" stroke-width="11.80" fill="none"/><path d="M1337.93,537.51 A131.20,131.20 0 0 1 1344.55,531.86" stroke="#d0d0d0" stroke-width="11.80" fill="none"/><path d="M1343.12,533.02 A131.20,131.20 0 0 1 1350.03,527.72" stroke="#d5d5d5" stroke-width="11.80" fill="none"/><path d="M1348.54,528.80 A131.20,131.20 0 0 1 1355.71,523.87" stroke="#d9d9d9" stroke-width="11.80" fill="none"/><path d="M1354.18,524.87 A131.20,131.20 0 0 1 1361.59,520.32" stroke="#dcdcdc" stroke-width="11.80" fill="none"/><path d="M1360.01,521.24 A131.20,131.20 0 0 1 1367.65,517.09" stroke="#dcdcdc" stroke-width="11.80" fill="none"/><path d="M1366.02,517.92 A131.20,131.20 0 0 1 1373.87,514.17" stroke="#dcdcdc" stroke-width="11.80" fill="none"/><path d="M1372.20,514.92 A131.20,131.20 0 0 1 1380.24,511.59" stroke="#dddddd" stroke-width="11.80" fill="none"/><path d="M1378.53,512.25 A131.20,131.20 0 0 1 1386.73,509.34" stroke="#dddddd" stroke-width="11.80" fill="none"/><path d="M1384.99,509.91 A131.20,131.20 0 0 1 1393.33,507.44" stroke="#dedede" stroke-width="11.80" fill="none"/><path d="M1391.56,507.91 A131.20,131.20 0 0 1 1400.02,505.88" stroke="#dedede" stroke-width="11.80" fill="none"/><path d="M1398.23,506.26 A131.20,131.20 0 0 1 1406.78,504.68" stroke="#dfdfdf" stroke-width="11.80" fill="none"/><path d="M1404.97,504.96 A131.20,131.20 0 0 1 1413.60,503.83" stroke="#dfdfdf" stroke-width="11.80" fill="none"/><path d="M1411.78,504.02 A131.20,131.20 0 0 1 1420.45,503.34" stroke="#e0e0e0" stroke-width="11.80" fill="none"/><path d="M1418.62,503.43 A131.20,131.20 0 0 1 1427.32,503.20" stroke="#e0e0e0" stroke-width="11.80" fill="none"/><path d="M1425.48,503.20 A131.20,131.20 0 0 1 1434.18,503.43" stroke="#e0e0e0" stroke-width="11.80" fill="none"/><path d="M1432.35,503.34 A131.20,131.20 0 0 1 1441.02,504.02" stroke="#dddddd" stroke-width="11.80" fill="none"/><path d="M1439.20,503.83 A131.20,131.20 0 0 1 1447.83,504.96" stroke="#d8d8d8" stroke-width="11.80" fill="none"/><path d="M1446.02,504.68 A131.20,131.20 0 0 1 1454.57,506.26" stroke="#d2d2d2" stroke-width="11.80" fill="none"/><path d="M1452.78,505.88 A131.20,131.20 0 0 1 1461.24,507.91" stroke="#cbcbcb" stroke-width="11.80" fill="none"/><path d="M1459.47,507.44 A131.20,131.20 0 0 1 1467.81,509.91" stroke="#c4c4c4" stroke-width="11.80" fill="none"/><path d="M1466.07,509.34 A131.20,131.20 0 0 1 1474.27,512.25" stroke="#bebebe" stroke-width="11.80" fill="none"/><path d="M1472.56,511.59 A131.20,131.20 0 0 1 1480.60,514.92" stroke="#b8b8b8" stroke-width="11.80" fill="none"/><path d="M1478.93,514.17 A131.20,131.20 0 0 1 1486.78,517.92" stroke="#b5b5b5" stroke-width="11.80" fill="none"/><path d="M1485.15,517.09 A131.20,131.20 0 0 1 1492.79,521.24" stroke="#b4b4b4" stroke-width="11.80" fill="none"/><path d="M1491.21,520.32 A131.20,131.20 0 0 1 1498.62,524.87" stroke="#b1b1b1" stroke-width="11.80" fill="none"/><path d="M1497.09,523.87 A131.20,131.20 0 0 1 1504.26,528.80" stroke="#acacac" stroke-width="11.80" fill="none"/><path d="M1502.77,527.72 A131.20,131.20 0 0 1 1509.68,533.02" stroke="#a4a4a4" stroke-width="11.80" fill="none"/><path d="M1508.25,531.86 A131.20,131.20 0 0 1 1514.87,537.51" stroke="#9c9c9c" stroke-width="11.80" fill="none"/><path d="M1513.51,536.29 A131.20,131.20 0 0 1 1519.82,542.28" stroke="#949494" stroke-width="11.80" fill="none"/><path d="M1518.52,540.98 A131.20,131.20 0 0 1 1524.51,547.29" stroke="#8f8f8f" stroke-width="11.80" fill="none"/><path d="M1523.29,545.93 A131.20,131.20 0 0 1 1528.94,552.55" stroke="#8c8c8c" stroke-width="11.80" fill="none"/><path d="M1527.78,551.12 A131.20,131.20 0 0 1 1533.08,558.03" stroke="#8d8d8d" stroke-width="11.80" fill="none"/><path d="M1532.00,556.54 A131.20,131.20 0 0 1 1536.93,563.71" stroke="#929292" stroke-width="11.80" fill="none"/><path d="M1535.93,562.18 A131.20,131.20 0 0 1 1540.48,569.59" stroke="#999999" stroke-width="11.80" fill="none"/><path d="M1539.56,568.01 A131.20,131.20 0 0 1 1543.71,575.65" stroke="#a1a1a1" stroke-width="11.80" fill="none"/><path d="M1542.88,574.02 A131.20,131.20 0 0 1 1546.63,581.87" stroke="#a9a9a9" stroke-width="11.80" fill="none"/><path d="M1545.88,580.20 A131.20,131.20 0 0 1 1549.21,588.24" stroke="#b0b0b0" stroke-width="11.80" fill="none"/><path d="M1548.55,586.53 A131.20,131.20 0 0 1 1551.46,594.73" stroke="#b3b3b3" stroke-width="11.80" fill="none"/><path d="M1550.89,592.99 A131.20,131.20 0 0 1 1553.36,601.33" stroke="#b4b4b4" stroke-width="11.80" fill="none"/><path d="M1552.89,599.56 A131.20,131.20 0 0 1 1554.92,608.02" stroke="#b8b8b8" stroke-width="11.80" fill="none"/><path d="M1554.54,606.23 A131.20,131.20 0 0 1 1556.12,614.78" stroke="#bdbdbd" stroke-width="11.80" fill="none"/><path d="M1555.84,612.97 A131.20,131.20 0 0 1 1556.97,621.60" stroke="#c4c4c4" stroke-width="11.80" fill="none"/><path d="M1556.78,619.78 A131.20,131.20 0 0 1 1557.46,628.45" stroke="#c9c9c9" stroke-width="11.80" fill="none"/><path d="M1557.37,626.62 A131.20,131.20 0 0 1 1557.60,635.32" stroke="#cdcdcd" stroke-width="11.80" fill="none"/>
<circle cx="1426.4" cy="634.4" r="135.2" fill="none" stroke="#f2f2f2" stroke-width="1.4" opacity="0.7"/>
<circle cx="1426.4" cy="634.4" r="137.0" fill="none" stroke="#6c6c6c" stroke-width="1"/>
<circle cx="1426.4" cy="634.4" r="125.2" fill="none" stroke="#5c5c5c" stroke-width="0.8"/>
<path d="M1548.90,633.54 A122.50,122.50 0 0 1 1548.36,645.93" stroke="#d3d3d3" stroke-width="5.00" fill="none"/><path d="M1548.51,644.22 A122.50,122.50 0 0 1 1546.89,656.51" stroke="#cbcbcb" stroke-width="5.00" fill="none"/><path d="M1547.18,654.83 A122.50,122.50 0 0 1 1544.50,666.93" stroke="#bdbdbd" stroke-width="5.00" fill="none"/><path d="M1544.94,665.28 A122.50,122.50 0 0 1 1541.22,677.10" stroke="#aaaaaa" stroke-width="5.00" fill="none"/><path d="M1541.80,675.49 A122.50,122.50 0 0 1 1537.06,686.94" stroke="#969696" stroke-width="5.00" fill="none"/><path d="M1537.78,685.39 A122.50,122.50 0 0 1 1532.06,696.39" stroke="#828282" stroke-width="5.00" fill="none"/><path d="M1532.91,694.91 A122.50,122.50 0 0 1 1526.25,705.36" stroke="#6f6f6f" stroke-width="5.00" fill="none"/><path d="M1527.23,703.96 A122.50,122.50 0 0 1 1519.69,713.79" stroke="#616161" stroke-width="5.00" fill="none"/><path d="M1520.79,712.48 A122.50,122.50 0 0 1 1512.41,721.62" stroke="#595959" stroke-width="5.00" fill="none"/><path d="M1513.62,720.41 A122.50,122.50 0 0 1 1504.48,728.79" stroke="#585858" stroke-width="5.00" fill="none"/><path d="M1505.79,727.69 A122.50,122.50 0 0 1 1495.96,735.23" stroke="#585858" stroke-width="5.00" fill="none"/><path d="M1497.36,734.25 A122.50,122.50 0 0 1 1486.91,740.91" stroke="#575757" stroke-width="5.00" fill="none"/><path d="M1488.39,740.06 A122.50,122.50 0 0 1 1477.39,745.78" stroke="#575757" stroke-width="5.00" fill="none"/><path d="M1478.94,745.06 A122.50,122.50 0 0 1 1467.49,749.80" stroke="#565656" stroke-width="5.00" fill="none"/><path d="M1469.10,749.22 A122.50,122.50 0 0 1 1457.28,752.94" stroke="#555555" stroke-width="5.00" fill="none"/><path d="M1458.93,752.50 A122.50,122.50 0 0 1 1446.83,755.18" stroke="#555555" stroke-width="5.00" fill="none"/><path d="M1448.51,754.89 A122.50,122.50 0 0 1 1436.22,756.51" stroke="#545454" stroke-width="5.00" fill="none"/><path d="M1437.93,756.36 A122.50,122.50 0 0 1 1425.54,756.90" stroke="#545454" stroke-width="5.00" fill="none"/><path d="M1427.26,756.90 A122.50,122.50 0 0 1 1414.87,756.36" stroke="#555555" stroke-width="5.00" fill="none"/><path d="M1416.58,756.51 A122.50,122.50 0 0 1 1404.29,754.89" stroke="#5a5a5a" stroke-width="5.00" fill="none"/><path d="M1405.97,755.18 A122.50,122.50 0 0 1 1393.87,752.50" stroke="#636363" stroke-width="5.00" fill="none"/><path d="M1395.52,752.94 A122.50,122.50 0 0 1 1383.70,749.22" stroke="#6e6e6e" stroke-width="5.00" fill="none"/><path d="M1385.31,749.80 A122.50,122.50 0 0 1 1373.86,745.06" stroke="#7a7a7a" stroke-width="5.00" fill="none"/><path d="M1375.41,745.78 A122.50,122.50 0 0 1 1364.41,740.06" stroke="#858585" stroke-width="5.00" fill="none"/><path d="M1365.89,740.91 A122.50,122.50 0 0 1 1355.44,734.25" stroke="#8d8d8d" stroke-width="5.00" fill="none"/><path d="M1356.84,735.23 A122.50,122.50 0 0 1 1347.01,727.69" stroke="#909090" stroke-width="5.00" fill="none"/><path d="M1348.32,728.79 A122.50,122.50 0 0 1 1339.18,720.41" stroke="#999999" stroke-width="5.00" fill="none"/><path d="M1340.39,721.62 A122.50,122.50 0 0 1 1332.01,712.48" stroke="#b2b2b2" stroke-width="5.00" fill="none"/><path d="M1333.11,713.79 A122.50,122.50 0 0 1 1325.57,703.96" stroke="#cfcfcf" stroke-width="5.00" fill="none"/><path d="M1326.55,705.36 A122.50,122.50 0 0 1 1319.89,694.91" stroke="#e3e3e3" stroke-width="5.00" fill="none"/><path d="M1320.74,696.39 A122.50,122.50 0 0 1 1315.02,685.39" stroke="#e6e6e6" stroke-width="5.00" fill="none"/><path d="M1315.74,686.94 A122.50,122.50 0 0 1 1311.00,675.49" stroke="#e8e8e8" stroke-width="5.00" fill="none"/><path d="M1311.58,677.10 A122.50,122.50 0 0 1 1307.86,665.28" stroke="#eaeaea" stroke-width="5.00" fill="none"/><path d="M1308.30,666.93 A122.50,122.50 0 0 1 1305.62,654.83" stroke="#ececec" stroke-width="5.00" fill="none"/><path d="M1305.91,656.51 A122.50,122.50 0 0 1 1304.29,644.22" stroke="#eeeeee" stroke-width="5.00" fill="none"/><path d="M1304.44,645.93 A122.50,122.50 0 0 1 1303.90,633.54" stroke="#f0f0f0" stroke-width="5.00" fill="none"/><path d="M1303.90,635.26 A122.50,122.50 0 0 1 1304.44,622.87" stroke="#efefef" stroke-width="5.00" fill="none"/><path d="M1304.29,624.58 A122.50,122.50 0 0 1 1305.91,612.29" stroke="#e9e9e9" stroke-width="5.00" fill="none"/><path d="M1305.62,613.97 A122.50,122.50 0 0 1 1308.30,601.87" stroke="#e0e0e0" stroke-width="5.00" fill="none"/><path d="M1307.86,603.52 A122.50,122.50 0 0 1 1311.58,591.70" stroke="#d7d7d7" stroke-width="5.00" fill="none"/><path d="M1311.00,593.31 A122.50,122.50 0 0 1 1315.74,581.86" stroke="#d1d1d1" stroke-width="5.00" fill="none"/><path d="M1315.02,583.41 A122.50,122.50 0 0 1 1320.74,572.41" stroke="#cdcdcd" stroke-width="5.00" fill="none"/><path d="M1319.89,573.89 A122.50,122.50 0 0 1 1326.55,563.44" stroke="#bababa" stroke-width="5.00" fill="none"/><path d="M1325.57,564.84 A122.50,122.50 0 0 1 1333.11,555.01" stroke="#a2a2a2" stroke-width="5.00" fill="none"/><path d="M1332.01,556.32 A122.50,122.50 0 0 1 1340.39,547.18" stroke="#8f8f8f" stroke-width="5.00" fill="none"/><path d="M1339.18,548.39 A122.50,122.50 0 0 1 1348.32,540.01" stroke="#8c8c8c" stroke-width="5.00" fill="none"/><path d="M1347.01,541.11 A122.50,122.50 0 0 1 1356.84,533.57" stroke="#8c8c8c" stroke-width="5.00" fill="none"/><path d="M1355.44,534.55 A122.50,122.50 0 0 1 1365.89,527.89" stroke="#8d8d8d" stroke-width="5.00" fill="none"/><path d="M1364.41,528.74 A122.50,122.50 0 0 1 1375.41,523.02" stroke="#8d8d8d" stroke-width="5.00" fill="none"/><path d="M1373.86,523.74 A122.50,122.50 0 0 1 1385.31,519.00" stroke="#8e8e8e" stroke-width="5.00" fill="none"/><path d="M1383.70,519.58 A122.50,122.50 0 0 1 1395.52,515.86" stroke="#8f8f8f" stroke-width="5.00" fill="none"/><path d="M1393.87,516.30 A122.50,122.50 0 0 1 1405.97,513.62" stroke="#8f8f8f" stroke-width="5.00" fill="none"/><path d="M1404.29,513.91 A122.50,122.50 0 0 1 1416.58,512.29" stroke="#909090" stroke-width="5.00" fill="none"/><path d="M1414.87,512.44 A122.50,122.50 0 0 1 1427.26,511.90" stroke="#909090" stroke-width="5.00" fill="none"/><path d="M1425.54,511.90 A122.50,122.50 0 0 1 1437.93,512.44" stroke="#909090" stroke-width="5.00" fill="none"/><path d="M1436.22,512.29 A122.50,122.50 0 0 1 1448.51,513.91" stroke="#929292" stroke-width="5.00" fill="none"/><path d="M1446.83,513.62 A122.50,122.50 0 0 1 1458.93,516.30" stroke="#959595" stroke-width="5.00" fill="none"/><path d="M1457.28,515.86 A122.50,122.50 0 0 1 1469.10,519.58" stroke="#989898" stroke-width="5.00" fill="none"/><path d="M1467.49,519.00 A122.50,122.50 0 0 1 1478.94,523.74" stroke="#9c9c9c" stroke-width="5.00" fill="none"/><path d="M1477.39,523.02 A122.50,122.50 0 0 1 1488.39,528.74" stroke="#a0a0a0" stroke-width="5.00" fill="none"/><path d="M1486.91,527.89 A122.50,122.50 0 0 1 1497.36,534.55" stroke="#a3a3a3" stroke-width="5.00" fill="none"/><path d="M1495.96,533.57 A122.50,122.50 0 0 1 1505.79,541.11" stroke="#a6a6a6" stroke-width="5.00" fill="none"/><path d="M1504.48,540.01 A122.50,122.50 0 0 1 1513.62,548.39" stroke="#a8a8a8" stroke-width="5.00" fill="none"/><path d="M1512.41,547.18 A122.50,122.50 0 0 1 1520.79,556.32" stroke="#a9a9a9" stroke-width="5.00" fill="none"/><path d="M1519.69,555.01 A122.50,122.50 0 0 1 1527.23,564.84" stroke="#aeaeae" stroke-width="5.00" fill="none"/><path d="M1526.25,563.44 A122.50,122.50 0 0 1 1532.91,573.89" stroke="#b6b6b6" stroke-width="5.00" fill="none"/><path d="M1532.06,572.41 A122.50,122.50 0 0 1 1537.78,583.41" stroke="#bebebe" stroke-width="5.00" fill="none"/><path d="M1537.06,581.86 A122.50,122.50 0 0 1 1541.80,593.31" stroke="#c6c6c6" stroke-width="5.00" fill="none"/><path d="M1541.22,591.70 A122.50,122.50 0 0 1 1544.94,603.52" stroke="#cbcbcb" stroke-width="5.00" fill="none"/><path d="M1544.50,601.87 A122.50,122.50 0 0 1 1547.18,613.97" stroke="#cdcdcd" stroke-width="5.00" fill="none"/><path d="M1546.89,612.29 A122.50,122.50 0 0 1 1548.51,624.58" stroke="#d0d0d0" stroke-width="5.00" fill="none"/><path d="M1548.36,622.87 A122.50,122.50 0 0 1 1548.90,635.26" stroke="#d3d3d3" stroke-width="5.00" fill="none"/>
<circle cx="1426.4" cy="634.4" r="119" fill="none" stroke="#f6f6f6" stroke-width="2.2"/>
<circle cx="1426.4" cy="634.4" r="120" fill="none" stroke="#4a4a4a" stroke-width="0.6" opacity="0.8"/>
<circle cx="1426.4" cy="634.4" r="117.8" fill="url(#gDial)" stroke="url(#gDialEdge)" stroke-width="1.1"/>
<rect x="1423.8" y="520.1" width="5.2" height="30" transform="rotate(0 1426.4 634.4)" fill="url(#gMark)" stroke="#7c7c7c" stroke-width="0.6"/>
<rect x="1423.8" y="520.1" width="5.2" height="30" transform="rotate(30 1426.4 634.4)" fill="url(#gMark)" stroke="#7c7c7c" stroke-width="0.6"/>
<rect x="1423.8" y="520.1" width="5.2" height="30" transform="rotate(60 1426.4 634.4)" fill="url(#gMark)" stroke="#7c7c7c" stroke-width="0.6"/>
<rect x="1423.8" y="520.1" width="5.2" height="30" transform="rotate(90 1426.4 634.4)" fill="url(#gMark)" stroke="#7c7c7c" stroke-width="0.6"/>
<rect x="1423.8" y="520.1" width="5.2" height="30" transform="rotate(120 1426.4 634.4)" fill="url(#gMark)" stroke="#7c7c7c" stroke-width="0.6"/>
<rect x="1423.8" y="520.1" width="5.2" height="30" transform="rotate(150 1426.4 634.4)" fill="url(#gMark)" stroke="#7c7c7c" stroke-width="0.6"/>
<rect x="1423.8" y="520.1" width="5.2" height="30" transform="rotate(180 1426.4 634.4)" fill="url(#gMark)" stroke="#7c7c7c" stroke-width="0.6"/>
<rect x="1423.8" y="520.1" width="5.2" height="30" transform="rotate(210 1426.4 634.4)" fill="url(#gMark)" stroke="#7c7c7c" stroke-width="0.6"/>
<rect x="1423.8" y="520.1" width="5.2" height="30" transform="rotate(240 1426.4 634.4)" fill="url(#gMark)" stroke="#7c7c7c" stroke-width="0.6"/>
<rect x="1423.8" y="520.1" width="5.2" height="30" transform="rotate(270 1426.4 634.4)" fill="url(#gMark)" stroke="#7c7c7c" stroke-width="0.6"/>
<rect x="1423.8" y="520.1" width="5.2" height="30" transform="rotate(300 1426.4 634.4)" fill="url(#gMark)" stroke="#7c7c7c" stroke-width="0.6"/>
<rect x="1423.8" y="520.1" width="5.2" height="30" transform="rotate(330 1426.4 634.4)" fill="url(#gMark)" stroke="#7c7c7c" stroke-width="0.6"/>
<text x="1426.2" y="591.4" font-size="19.6" text-anchor="middle" textLength="48.4" lengthAdjust="spacingAndGlyphs" style="fill:#1e1e1e;stroke:#1e1e1e;stroke-width:0.35">PACIFIC</text>
<polygon transform="translate(1426.4,634.4) rotate(-150.57)" points="6,-2.8 69.9,-3.7 76.9,0 69.9,3.7 6,2.8" fill="url(#gHand)" stroke="#6a6a6a" stroke-width="0.8" stroke-linejoin="round"/>
<polygon transform="translate(1426.4,634.4) rotate(-30.39)" points="6,-2.7 108.5,-3.6 115.5,0 108.5,3.6 6,2.7" fill="url(#gHand)" stroke="#6a6a6a" stroke-width="0.8" stroke-linejoin="round"/>
<circle cx="1426.4" cy="634.4" r="9" fill="#f2f2f2" stroke="#707070" stroke-width="1"/>
<circle cx="1426.4" cy="634.4" r="5.4" fill="#fafafa" stroke="#808080" stroke-width="0.9"/>
<circle cx="1426.4" cy="634.4" r="2.6" fill="#9a9a9a" stroke="#6a6a6a" stroke-width="0.6"/>
</g>
<line x1="1366.6" y1="431.7" x2="1366.6" y2="480.0" stroke="#1c1c1c" stroke-width="1.30"/>
<line x1="1486.1" y1="432.0" x2="1486.1" y2="472.0" stroke="#4a4a4a" stroke-width="1.30"/>
<line x1="1371.1" y1="450.3" x2="1482.1" y2="450.3" stroke="#1c1c1c" stroke-width="1.30"/><polygon points="1367.5,450.3 1373.1,444.0 1371.1,450.3 1373.1,456.6" fill="#111"/><polygon points="1485.7,450.3 1480.1,444.0 1482.1,450.3 1480.1,456.6" fill="#111"/>
<line x1="1255.5" y1="471.3" x2="1366.6" y2="471.3" stroke="#1c1c1c" stroke-width="1.30"/>
<line x1="1265.8" y1="797.5" x2="1369.0" y2="797.5" stroke="#1c1c1c" stroke-width="1.30"/>
<line x1="1279.5" y1="481.2" x2="1279.5" y2="787.4" stroke="#1c1c1c" stroke-width="1.40"/><polygon points="1279.5,471.6 1273.7,483.2 1279.5,481.2 1285.3,483.2" fill="#111"/><polygon points="1279.5,797.0 1273.7,785.4 1279.5,787.4 1285.3,785.4" fill="#111"/>
<text transform="translate(28.35,120.80) scale(0.9680,1)" font-size="60.70" class="b" text-anchor="middle" >B</text>
<text transform="translate(756.75,117.90) scale(1.0245,1)" font-size="61.50" class="b" text-anchor="middle" >A</text>
<text transform="translate(412.45,252.00) scale(0.9220,1)" font-size="60.80" class="b" text-anchor="middle" >C</text>
<text transform="translate(1214.65,249.00) scale(0.9540,1)" font-size="60.90" class="b" text-anchor="middle" >D</text>
<text transform="translate(1426.45,432.20) scale(1.0200,1)" font-size="54.40" class="b" text-anchor="middle" >A</text>
<text transform="translate(1250.75,652.90) scale(0.9560,1)" font-size="52.40" class="b" text-anchor="middle" >H</text>
<text transform="translate(149.60,514.80) scale(0.9710,1)" font-size="59.20" class="b" text-anchor="start" >L max</text>
<text transform="translate(146.90,805.80) scale(0.9530,1)" font-size="61.20" class="b" text-anchor="start" >L min</text>
<text transform="translate(344.90,509.50) scale(0.9830,1)" font-size="29.60"  text-anchor="start" xml:space="preserve">L max + H&#160; = maksymalny obwód nadgarstka</text>
<text transform="translate(344.90,798.00) scale(0.9780,1)" font-size="29.80"  text-anchor="start" xml:space="preserve">L min + H&#160; = minimalny obwód nadgarstka</text>
</svg>
</body></html>
